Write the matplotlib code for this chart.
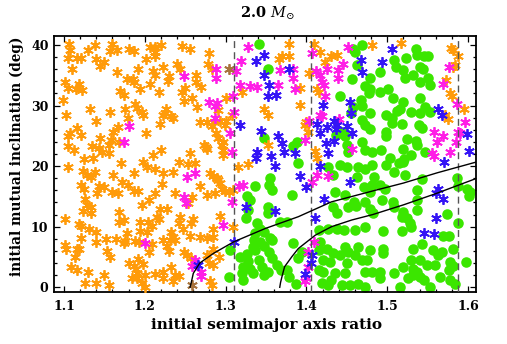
import matplotlib
matplotlib.use("Agg")
import matplotlib.pyplot as plt
from matplotlib.ticker import MultipleLocator

plt.rcParams['mathtext.fontset'] = 'dejavuserif'

# ---------------- data ----------------
orange_x = [
    1.106,1.108,1.138,1.130,1.159,1.157,1.165,1.181,1.187,1.207,1.212,1.213,1.220,
    1.105,1.116,1.121,1.139,1.149,1.145,1.201,1.213,
    1.110,1.165,1.192,1.210,1.213,1.222,
    1.101,1.105,1.119,1.115,1.122,
    1.178,1.185,1.187,1.194,1.206,1.217,1.169,1.174,
    1.099,1.188,1.176,1.190,1.196,1.198,1.179,
    1.102,1.132,1.157,1.222,
    1.140,1.167,1.161,1.116,1.108,1.121,1.105,1.219,1.201,
    1.145,1.158,1.156,1.168,1.135,1.143,1.105,1.112,1.147,1.156,1.220,1.210,1.125,1.136,
    1.246,1.256,1.279,1.240,1.243,1.278,1.283,
    1.230,1.229,1.263,1.263,1.270,1.250,1.246,1.259,1.248,1.264,1.226,1.225,
    1.233,1.235,1.268,1.277,1.283,1.286,1.293,1.301,1.299,1.291,1.301,1.308,1.320,1.347,
    1.288,1.291,1.297,1.295,1.273,1.276,1.277,1.297,1.256,1.297,
    1.378,1.370,1.379,1.366,1.409,1.417,1.423,1.431,1.438,1.403,
    1.392,1.415,1.413,1.392,1.353,1.399,1.398,1.402,1.352,1.411,1.413,
    1.481,1.517,1.579,1.582,1.587,1.584,1.581,1.573,1.578,1.580,1.595,1.572,1.575,
    1.105,1.171,1.198,1.203,1.212,1.123,1.128,1.134,1.138,1.161,1.186,1.222,
    1.121,1.125,1.143,1.141,1.150,1.160,1.167,1.172,1.179,1.187,1.191,1.213,1.221,
    1.126,1.129,1.134,1.124,1.134,1.168,1.196,1.205,1.219,1.215,1.218,1.101,
    1.119,1.121,1.168,1.174,1.194,1.204,1.209,1.131,1.139,1.194,1.203,1.178,
    1.121,1.101,1.103,1.116,1.119,1.139,1.152,1.164,1.174,1.176,1.188,1.193,1.209,1.223,
    1.153,1.157,1.205,1.114,1.109,1.116,1.130,1.150,1.181,1.186,1.189,1.192,
    1.198,1.190,1.200,1.213,1.223,1.184,1.190,1.222,1.126,1.139,1.156,1.196,1.200,
    1.242,1.254,1.262,1.315,1.328,1.235,1.281,1.285,1.289,1.291,1.268,1.277,
    1.287,1.295,1.299,1.304,1.309,1.293,1.237,1.258,1.254,1.227,1.244,1.260,
    1.257,1.293,1.284,1.309,1.242,1.247,1.233,1.235,1.231,1.237,1.230,1.227,
    1.256,1.268,1.277,1.285,1.248,1.252,1.257,1.277,1.285,1.292,1.280,1.284,
    1.233,1.237,1.242,1.235,1.281,1.283,
]
orange_y = [
    40.1,39.2,40.0,39.2,40.1,39.0,39.2,39.4,39.0,39.7,39.7,38.9,40.0,
    37.8,37.9,37.8,37.7,37.2,36.6,37.7,38.1,
    36.0,35.5,36.1,35.7,35.0,36.4,
    33.9,32.9,33.5,32.7,32.6,
    34.4,34.3,33.8,32.7,33.5,32.2,32.4,31.8,
    30.9,30.3,29.4,29.6,29.0,28.4,28.0,
    28.4,29.4,29.0,28.5,
    27.4,26.5,25.7,26.3,25.4,25.1,24.9,26.9,25.4,
    24.7,24.3,23.5,23.9,23.3,23.0,23.4,22.7,22.3,22.1,22.7,21.9,21.2,21.4,
    39.9,39.3,38.6,36.8,36.1,36.8,36.1,
    34.8,34.0,35.0,33.9,33.1,32.9,32.2,31.2,30.7,29.8,29.5,28.7,
    28.2,27.9,27.3,27.2,26.7,27.2,27.4,27.4,26.8,29.3,31.2,28.4,32.2,29.4,
    25.4,24.6,24.0,23.5,23.5,23.2,22.9,22.7,22.1,21.8,
    40.1,38.1,38.2,37.7,40.1,38.9,37.2,38.2,38.3,35.3,
    32.9,32.3,32.8,30.1,28.4,27.3,26.8,25.6,23.5,22.5,21.3,
    40.0,40.3,39.5,39.2,38.1,36.7,36.4,34.2,32.0,31.5,29.5,28.5,27.8,
    19.9,20.45,20.7,19.8,19.6,19.2,18.5,18.25,19.1,18.5,18.8,18.8,
    16.9,16.3,16.7,15.5,16.5,15.8,15.6,17.3,16.9,15.9,15.9,15.5,17.1,
    14.5,13.6,13.3,12.6,12.3,12.5,13.6,14.4,13.0,11.65,11.2,11.2,
    10.4,10.1,10.8,11.1,10.8,10.8,10.1,9.6,9.2,9.3,9.2,9.0,
    8.1,7.0,6.4,6.4,6.3,7.4,7.9,7.9,7.25,7.7,7.7,7.5,7.1,7.8,
    6.05,5.05,5.9,4.95,3.4,2.85,2.6,2.0,3.95,3.5,3.1,4.6,
    3.8,2.3,2.0,2.2,2.6,1.5,1.5,1.5,0.65,0.65,0.3,0.65,0.1,
    20.7,20.3,20.45,19.9,20.3,19.1,18.8,18.4,18.0,17.7,16.7,15.2,
    15.5,16.2,15.9,15.8,16.05,17.15,15.5,14.95,13.85,12.9,11.65,11.2,
    10.55,11.75,9.7,10.0,10.55,9.7,9.2,8.35,7.8,7.8,6.0,6.8,
    8.5,8.35,8.1,8.35,5.9,5.3,4.9,5.3,6.3,5.05,3.95,3.7,
    3.4,2.0,1.85,1.1,1.1,0.4,
]

magenta_x = [
    1.180,1.174,
    1.288,1.288,1.248,1.313,1.328,1.319,1.318,1.330,1.339,1.279,1.287,1.289,1.287,1.309,1.310,1.306,1.308,
    1.367,1.384,1.383,1.365,1.386,1.407,1.412,1.417,1.419,1.422,1.426,1.439,1.445,1.439,1.423,1.452,1.417,1.419,1.440,1.403,1.398,1.457,
    1.576,1.569,1.586,1.596,1.558,1.569,1.561,1.587,1.590,1.585,1.578,1.555,1.558,
    1.200,1.252,1.262,1.248,1.251,1.317,1.322,1.308,1.297,1.262,1.259,1.270,1.270,
    1.413,1.407,1.427,1.409,1.402,1.402,1.400,1.398,
]
magenta_y = [
    26.7,24.0,
    36.0,34.5,34.9,35.7,39.7,37.3,33.4,33.3,33.1,30.6,30.0,30.4,28.0,31.6,28.9,25.4,22.3,
    35.9,36.1,34.5,33.4,32.7,38.6,35.7,35.0,33.9,33.4,36.1,35.9,36.8,34.6,31.5,39.7,28.5,28.2,27.8,27.4,24.3,22.9,
    36.4,33.5,30.2,27.2,25.7,24.9,23.9,25.7,25.4,23.9,22.4,22.1,21.6,
    7.25,18.25,18.8,14.95,13.85,16.7,16.9,14.1,10.3,4.5,3.5,2.6,1.85,
    18.5,17.4,18.4,7.5,5.9,3.4,1.5,1.1,
]

blue_x = [
    1.337,1.347,1.348,1.318,1.344,1.339,1.337,
    1.378,1.354,1.353,1.362,1.467,1.469,1.421,1.454,1.455,1.413,1.425,1.434,1.438,1.436,1.450,1.457,1.417,
    1.365,1.370,1.372,1.356,1.386,1.424,1.427,1.434,
    1.506,1.494,1.563,1.568,1.599,1.601,
    1.325,1.310,1.266,
    1.361,1.392,1.400,1.454,1.422,1.361,1.411,1.407,1.406,1.398,1.417,
    1.570,1.563,1.560,1.569,1.560,1.546,1.558,
]
blue_y = [
    37.3,38.3,35.0,26.8,25.8,22.3,21.3,
    36.1,33.4,31.5,31.8,37.5,35.5,30.1,30.6,28.7,26.9,26.5,27.4,26.8,26.1,26.7,25.4,25.4,
    24.9,23.8,22.4,21.6,22.1,23.8,22.1,24.1,
    39.3,37.1,29.5,28.4,25.3,22.5,
    13.3,7.5,3.7,
    20.0,18.4,16.6,17.4,14.5,12.6,11.5,5.3,3.95,2.2,20.0,
    20.7,16.3,15.6,14.5,11.5,8.9,8.8,
]

brown_x = [1.304, 1.259]
brown_y = [36.1, 0.4]

green_x = [
    1.341,1.348,1.353,1.458,1.460,1.469,1.462,1.457,1.441,1.473,1.477,1.467,1.469,1.458,1.469,1.473,
    1.448,1.450,1.452,1.469,1.473,1.388,1.384,1.436,1.445,1.455,
    1.535,1.537,1.523,1.545,1.551,1.508,1.511,1.520,1.541,1.544,1.491,1.522,1.532,1.541,1.551,1.553,
    1.479,1.479,1.501,1.491,1.507,1.540,1.520,1.516,1.512,1.530,1.540,1.547,1.553,1.499,1.506,1.506,
    1.479,1.479,1.518,1.539,1.543,1.499,1.499,1.524,1.535,1.537,1.520,1.481,1.492,1.504,1.521,1.530,1.547,
    1.336,1.327,1.330,1.328,1.325,1.352,1.353,1.339,1.343,1.347,1.336,1.335,1.343,1.334,1.336,
    1.348,1.341,1.326,1.328,1.322,1.318,1.320,1.322,1.330,1.334,1.345,1.347,1.304,1.306,
    1.355,1.354,1.357,1.390,1.427,1.442,1.450,1.433,1.464,1.473,1.481,1.462,1.471,1.479,1.435,1.448,
    1.459,1.433,1.438,1.452,1.461,1.473,1.479,1.482,1.382,1.367,1.376,1.355,1.357,1.354,1.357,1.353,
    1.363,1.376,1.390,1.384,1.394,1.415,1.427,1.438,1.446,1.460,1.473,1.417,1.415,1.425,1.433,1.448,
    1.442,1.452,1.460,1.464,1.421,1.429,1.450,1.469,1.475,1.473,1.481,1.448,1.435,1.421,1.415,1.419,
    1.427,1.431,1.444,1.454,1.464,1.473,1.387,1.378,1.369,
    1.499,1.514,1.520,1.508,1.522,1.543,1.586,1.484,1.481,1.491,1.497,1.537,1.588,1.599,1.603,1.601,
    1.494,1.507,1.508,1.520,1.518,1.524,1.528,1.530,1.537,1.537,1.574,1.588,1.495,1.518,1.569,1.576,
    1.479,1.495,1.495,1.532,1.543,1.557,1.563,1.568,1.582,1.530,1.541,1.549,1.559,1.578,1.582,1.598,
    1.520,1.532,1.537,1.532,1.541,1.545,1.491,1.491,1.508,1.526,1.576,1.565,1.578,1.584,1.516,1.553,
]
green_y = [
    40.1,24.6,36.1,39.4,38.8,40.0,36.7,34.4,31.5,33.3,32.0,30.9,30.0,29.8,27.6,26.8,
    24.9,23.5,22.4,24.0,22.7,24.0,23.4,25.1,25.7,28.7,
    39.3,38.3,37.9,38.1,38.2,37.5,36.4,35.9,36.4,36.1,35.6,34.5,35.1,33.9,34.6,33.4,
    34.5,32.8,32.7,32.2,31.3,31.2,30.6,29.4,29.1,28.9,28.7,29.8,29.0,28.4,28.0,27.1,
    28.7,26.2,26.9,26.8,26.3,25.7,25.0,24.5,24.1,23.5,22.9,22.4,22.6,21.3,21.2,21.8,22.4,
    16.7,15.05,14.4,12.75,11.4,13.3,12.2,10.55,9.7,9.2,8.9,7.8,7.4,6.6,6.15,
    6.8,4.5,5.5,4.4,3.4,5.05,2.3,1.2,3.1,2.3,3.4,2.0,1.65,6.15,
    18.0,16.9,16.05,20.45,19.9,20.2,19.9,18.5,19.9,19.6,20.2,18.25,16.6,15.8,15.8,15.2,
    14.1,13.3,12.2,13.3,13.4,14.1,13.0,12.2,15.2,10.8,10.8,8.1,7.8,5.9,4.8,2.6,
    3.7,2.85,4.8,7.25,5.9,9.45,9.7,9.7,9.45,9.45,10.0,7.5,6.15,6.4,5.7,6.6,
    5.3,5.9,5.3,6.6,4.5,4.2,4.0,4.5,4.5,2.6,2.6,2.3,2.3,2.6,2.85,0.65,
    0.4,1.2,0.4,0.4,0.55,0.1,0.55,1.75,2.85,
    20.2,20.45,20.7,19.1,18.5,17.8,18.0,18.25,16.9,16.9,16.3,16.05,16.7,16.3,15.8,15.05,
    14.4,14.1,13.3,12.5,11.65,11.4,10.55,10.0,14.4,12.75,12.1,10.65,9.35,9.35,8.45,8.45,
    6.15,6.4,5.6,6.3,7.15,6.15,5.3,5.9,6.4,4.5,4.5,3.7,3.7,4.2,3.5,4.2,
    3.3,3.1,2.6,2.0,1.75,1.2,2.6,1.5,2.3,1.5,2.85,1.75,1.2,0.55,0.1,0.0,
]

# boundary curves
upper_x = [1.256, 1.257, 1.260, 1.268, 1.285, 1.310, 1.349, 1.390, 1.431, 1.485, 1.520, 1.562, 1.611]
upper_y = [0.0, 0.5, 2.3, 4.0, 5.6, 7.5, 9.7, 11.65, 14.1, 16.0, 17.2, 18.9, 20.7]
lower_x = [1.367, 1.368, 1.370, 1.373, 1.382, 1.390, 1.411, 1.431, 1.456, 1.482, 1.520, 1.561, 1.611]
lower_y = [0.0, 0.8, 1.9, 3.4, 5.05, 6.4, 8.6, 10.0, 11.1, 12.0, 13.6, 15.5, 18.0]

# resonance locations (dashed lines)
resonance_x = [1.3104, 1.4057, 1.5874]

title_text = "2.0 "
title_math = r"$M_{\odot}$"
xlabel = "initial semimajor axis ratio"
ylabel = "initial mutual inclination (deg)"

# ---------------- figure ----------------
fig = plt.figure(figsize=(5.07, 3.44), dpi=100)
ax = fig.add_axes([0.1065, 0.152, 0.8324, 0.7433])

star = (6, 2, 0)
ax.plot(green_x, green_y, ls='none', marker='o', ms=7.6, mew=0,
        color='#3be600', zorder=2)
ax.plot(orange_x, orange_y, ls='none', marker=star, ms=7.6, mew=1.3,
        color='#ff9b0a', zorder=3)
ax.plot(magenta_x, magenta_y, ls='none', marker=star, ms=7.6, mew=1.3,
        color='#ff1ee6', zorder=4)
ax.plot(blue_x, blue_y, ls='none', marker=star, ms=7.6, mew=1.3,
        color='#3414f5', zorder=5)
ax.plot(brown_x, brown_y, ls='none', marker=star, ms=7.6, mew=1.3,
        color='#a8743c', zorder=5)

for rx in resonance_x:
    ax.axvline(rx, color='#555555', lw=1.0, ls=(0, (5, 3)), zorder=6)

ax.plot(upper_x, upper_y, color='black', lw=1.0, zorder=7)
ax.plot(lower_x, lower_y, color='black', lw=1.0, zorder=7)

ax.set_xlim(1.0876, 1.6099)
ax.set_ylim(-0.73, 41.47)

ax.xaxis.set_major_locator(MultipleLocator(0.1))
ax.xaxis.set_minor_locator(MultipleLocator(0.02))
ax.yaxis.set_major_locator(MultipleLocator(10))
ax.yaxis.set_minor_locator(MultipleLocator(2))
ax.tick_params(which='both', direction='in', top=True, right=True, width=0.9)
ax.tick_params(which='major', length=4.5)
ax.tick_params(which='minor', length=2.5)
ax.tick_params(axis='x', pad=6)
ax.tick_params(axis='y', pad=4)
for sp in ax.spines.values():
    sp.set_linewidth(1.3)

tick_font = dict(family='DejaVu Serif', weight='bold', size=9)
ax.set_xticks([1.1, 1.2, 1.3, 1.4, 1.5, 1.6])
ax.set_xticklabels(["1.1", "1.2", "1.3", "1.4", "1.5", "1.6"], fontdict=tick_font)
ax.set_yticks([0, 10, 20, 30, 40])
ax.set_yticklabels(["0", "10", "20", "30", "40"], fontdict=tick_font)

fig.text(0.5247, 0.055, xlabel, ha='center', va='center',
         family='DejaVu Serif', weight='bold', size=11)
fig.text(0.034, 0.5465, ylabel, ha='center', va='center', rotation=90,
         family='DejaVu Serif', weight='bold', size=9.8)
fig.text(0.5286, 0.962, title_text + title_math, ha='center', va='center',
         family='DejaVu Serif', weight='bold', size=10.5)

fig.savefig("out.png", dpi=100)
